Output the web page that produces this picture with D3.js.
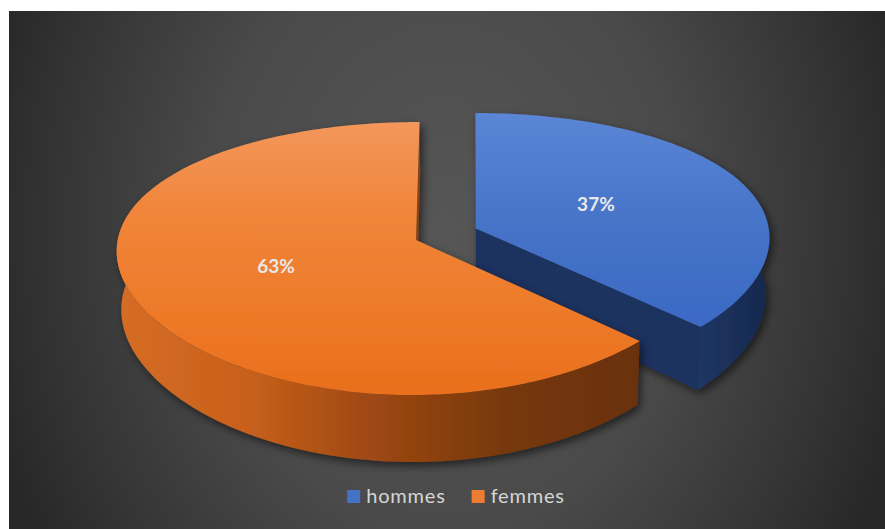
<!DOCTYPE html>
<html>
<head>
<meta charset="utf-8">
<script src="https://cdn.jsdelivr.net/npm/d3@7"></script>
<style>
  html, body { margin: 0; padding: 0; background: #ffffff; }
  svg { display: block; }
</style>
</head>
<body>
<svg id="chart" width="885" height="529"></svg>
<script>
// ---- data ----
const categories = ["hommes", "femmes"];
const shares = [37, 63];
const shareLabels = ["37%", "63%"];

// ---- styling ----
const explodedSlice = "hommes";
const explodeDistance = 0.22;          // in pie-radius units
const palette = {
  hommes: {
    key: "#4472c4",
    top: ["#5b86d6", "#4674c8", "#3b69c4"],
    side: ["#1f3764", "#1a2f58", "#16294c"],
    cut: "#1d335e"
  },
  femmes: {
    key: "#ed7d31",
    top: ["#f3975b", "#f0853a", "#ee7b2a", "#e96f1c"],
    side: ["#d56d26", "#c8601b", "#9c4712", "#76380d", "#69310b"],
    cut: "#8a4312"
  }
};

const W = 885, H = 529;
const svg = d3.select("#chart");
const defs = svg.append("defs");

// ---- chart area background ----
const bgGrad = defs.append("radialGradient")
  .attr("id", "bgGrad")
  .attr("gradientUnits", "userSpaceOnUse")
  .attr("cx", 0).attr("cy", 0).attr("r", 1)
  .attr("gradientTransform", "translate(446,230) scale(470,600)");
[[0, "#565656"], [0.5, "#4a4a4a"], [0.85, "#333333"], [1, "#282828"]]
  .forEach(([o, c]) => bgGrad.append("stop").attr("offset", o).attr("stop-color", c));

svg.append("rect")
  .attr("x", 9).attr("y", 11)
  .attr("width", W - 9).attr("height", H - 11)
  .attr("fill", "url(#bgGrad)");

// ---- soft drop shadow for the 3D slices ----
const shadow = defs.append("filter")
  .attr("id", "sliceShadow")
  .attr("x", "-20%").attr("y", "-20%").attr("width", "140%").attr("height", "140%");
shadow.append("feDropShadow")
  .attr("dx", 3).attr("dy", 4)
  .attr("stdDeviation", 4)
  .attr("flood-color", "#000")
  .attr("flood-opacity", 0.55);

// ---- 3D projection of the pie disc ----
// X: right, Z: away from viewer (radius units); bottom = lower rim of the slab
const view = {
  cx: 416, cy: 240,     // screen position of the pie centre (top face)
  xc: 470,              // horizontal centre of perspective
  F: 296.5,             // horizontal radius
  px: 0.07,             // horizontal perspective strength (depth)
  qx: 0.005,            // horizontal perspective strength (sideways)
  pb: 0.013,            // horizontal shrink of the lower rim
  A: 134,               // vertical radius
  py: 0.1356,           // vertical perspective strength
  T: 57.9               // slab thickness
};
function project(X, Z, bottom) {
  const b = bottom ? 1 : 0;
  const kx = 1 / (1 + view.px * Z + view.qx * X + view.pb * b);
  const ky = 1 / (1 + view.py * Z);
  return [
    view.xc + (view.cx - view.xc + view.F * X) * kx,
    view.cy - (view.A * Z - view.T * b) * ky
  ];
}

const data = categories.map((name, i) => ({ name, value: shares[i], label: shareLabels[i] }));
const pie = d3.pie().sort(null).value(d => d.value);
const slices = pie(data);

function offsetOf(d) {
  const e = d.data.name === explodedSlice ? explodeDistance : 0;
  const mid = (d.startAngle + d.endAngle) / 2;
  return [e * Math.sin(mid), e * Math.cos(mid)];
}
function pointOf(d, theta, r, bottom) {
  const [ox, oz] = offsetOf(d);
  return project(ox + r * Math.sin(theta), oz + r * Math.cos(theta), bottom);
}
function arcPoints(d, a, b, bottom) {
  const n = Math.max(2, Math.ceil(Math.abs(b - a) / (Math.PI / 180)));
  return d3.range(n + 1).map(i => pointOf(d, a + (b - a) * i / n, 1, bottom));
}
function signedArea(pts) {
  let s = 0;
  for (let i = 0; i < pts.length; i++) {
    const [x1, y1] = pts[i], [x2, y2] = pts[(i + 1) % pts.length];
    s += x1 * y2 - x2 * y1;
  }
  return s / 2;
}

const closed = d3.line().curve(d3.curveLinearClosed);

// gradients for each slice
slices.forEach(d => {
  const p = palette[d.data.name];
  const tg = defs.append("linearGradient")
    .attr("id", "top-" + d.data.name)
    .attr("x1", 0).attr("y1", 0).attr("x2", 0).attr("y2", 1);
  p.top.forEach((c, i) => tg.append("stop").attr("offset", i / (p.top.length - 1)).attr("stop-color", c));
  const sg = defs.append("linearGradient")
    .attr("id", "side-" + d.data.name)
    .attr("x1", 0).attr("y1", 0).attr("x2", 1).attr("y2", 0);
  p.side.forEach((c, i) => sg.append("stop").attr("offset", i / (p.side.length - 1)).attr("stop-color", c));
});

// paint from back to front
const order = slices.slice().sort((a, b) =>
  Math.cos((b.startAngle + b.endAngle) / 2) - Math.cos((a.startAngle + a.endAngle) / 2));

const pieG = svg.append("g");
order.forEach(d => {
  const name = d.data.name;
  const g = pieG.append("g").attr("class", "slice " + name).attr("filter", "url(#sliceShadow)");
  const ext = 20 * Math.PI / 180;

  // outer wall (front-facing part of the rim)
  const s0 = Math.max(d.startAngle, Math.PI / 2 - ext);
  const s1 = Math.min(d.endAngle, 3 * Math.PI / 2 + ext);
  if (s1 > s0) {
    const wall = arcPoints(d, s0, s1, false).concat(arcPoints(d, s1, s0, true));
    g.append("path").attr("d", closed(wall)).attr("fill", `url(#side-${name})`);
  }

  // radial cut faces that turn towards the viewer
  [[d.startAngle, -1], [d.endAngle, 1]].forEach(([phi, sign]) => {
    const quad = [pointOf(d, 0, 0, false), pointOf(d, phi, 1, false),
                  pointOf(d, phi, 1, true), pointOf(d, 0, 0, true)];
    if (signedArea(quad) * sign > 50) {
      g.append("path").attr("d", closed(quad)).attr("fill", palette[name].cut);
    }
  });

  // top face
  const top = [pointOf(d, 0, 0, false)].concat(arcPoints(d, d.startAngle, d.endAngle, false));
  g.append("path").attr("d", closed(top)).attr("fill", `url(#top-${name})`);
});

// ---- value labels ----
const labelRadius = 0.478, labelDx = -7;
slices.forEach(d => {
  const mid = (d.startAngle + d.endAngle) / 2;
  const [x, y] = pointOf(d, mid, labelRadius, false);
  svg.append("text")
    .attr("x", x + labelDx).attr("y", y)
    .attr("dy", "0.35em")
    .attr("text-anchor", "middle")
    .attr("font-family", "Lato, 'Open Sans', sans-serif")
    .attr("font-weight", 700)
    .attr("font-size", 19)
    .attr("fill", "#e8e8e8")
    .text(d.data.label);
});

// ---- legend ----
const legend = svg.append("g").attr("class", "legend");
const keySize = 13, keyGap = 6, itemGap = 26, legendCenter = 456, legendBaseline = 503;
let cursor = 0;
categories.forEach(name => {
  const g = legend.append("g");
  g.append("rect")
    .attr("width", keySize).attr("height", keySize)
    .attr("y", legendBaseline - keySize)
    .attr("fill", palette[name].key);
  const t = g.append("text")
    .attr("x", keySize + keyGap).attr("y", legendBaseline)
    .attr("font-family", "Lato, 'Open Sans', sans-serif")
    .attr("font-size", 20)
    .attr("letter-spacing", 0.8)
    .attr("fill", "#d6d6d6")
    .text(name);
  const w = keySize + keyGap + t.node().getComputedTextLength();
  g.attr("transform", `translate(${cursor},0)`);
  cursor += w + itemGap;
});
const legendWidth = cursor - itemGap;
legend.attr("transform", `translate(${legendCenter - legendWidth / 2},0)`);
</script>
</body>
</html>
